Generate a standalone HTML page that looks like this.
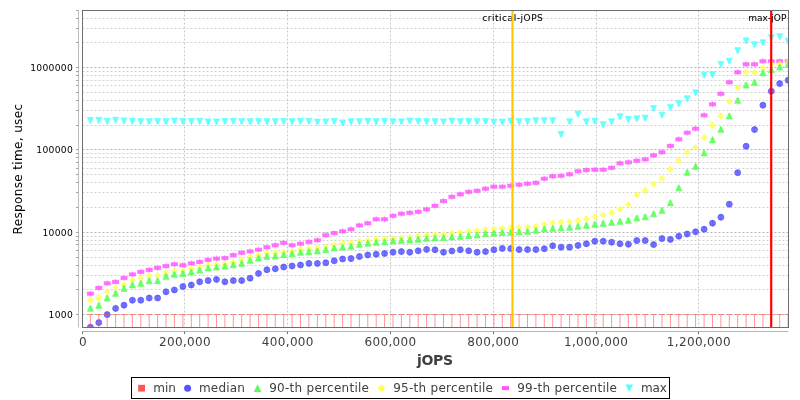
<!DOCTYPE html>
<html lang="en"><head><meta charset="utf-8"><title>Response time vs jOPS</title>
<style>html,body{margin:0;padding:0;background:#fff;overflow:hidden}svg{display:block;filter:opacity(1)}text{font-family:'DejaVu Sans','Liberation Sans',sans-serif;}</style></head><body>
<svg width="800" height="400" viewBox="0 0 800 400">
<rect x="0" y="0" width="800" height="400" fill="#ffffff"/>
<defs><clipPath id="plot"><rect x="82.5" y="10.5" width="706.0" height="317.0"/></clipPath></defs>
<g stroke="#c0c0c0" stroke-width="1" stroke-dasharray="2 2" fill="none" stroke-opacity="0.85">
<line x1="184.5" y1="10.5" x2="184.5" y2="327.5"/>
<line x1="287.5" y1="10.5" x2="287.5" y2="327.5"/>
<line x1="390.5" y1="10.5" x2="390.5" y2="327.5"/>
<line x1="493.5" y1="10.5" x2="493.5" y2="327.5"/>
<line x1="596.5" y1="10.5" x2="596.5" y2="327.5"/>
<line x1="698.5" y1="10.5" x2="698.5" y2="327.5"/>
<line x1="82.5" y1="314.5" x2="788.5" y2="314.5" stroke="#b2b2b2" stroke-opacity="1"/>
<line x1="82.5" y1="289.5" x2="788.5" y2="289.5" stroke="#cacaca"/>
<line x1="82.5" y1="275.5" x2="788.5" y2="275.5" stroke="#cacaca"/>
<line x1="82.5" y1="265.5" x2="788.5" y2="265.5" stroke="#cacaca"/>
<line x1="82.5" y1="257.5" x2="788.5" y2="257.5" stroke="#cacaca"/>
<line x1="82.5" y1="250.5" x2="788.5" y2="250.5" stroke="#cacaca"/>
<line x1="82.5" y1="244.5" x2="788.5" y2="244.5" stroke="#cacaca"/>
<line x1="82.5" y1="240.5" x2="788.5" y2="240.5" stroke="#cacaca"/>
<line x1="82.5" y1="236.5" x2="788.5" y2="236.5" stroke="#cacaca"/>
<line x1="82.5" y1="232.5" x2="788.5" y2="232.5" stroke="#b2b2b2" stroke-opacity="1"/>
<line x1="82.5" y1="207.5" x2="788.5" y2="207.5" stroke="#cacaca"/>
<line x1="82.5" y1="192.5" x2="788.5" y2="192.5" stroke="#cacaca"/>
<line x1="82.5" y1="182.5" x2="788.5" y2="182.5" stroke="#cacaca"/>
<line x1="82.5" y1="174.5" x2="788.5" y2="174.5" stroke="#cacaca"/>
<line x1="82.5" y1="168.5" x2="788.5" y2="168.5" stroke="#cacaca"/>
<line x1="82.5" y1="162.5" x2="788.5" y2="162.5" stroke="#cacaca"/>
<line x1="82.5" y1="157.5" x2="788.5" y2="157.5" stroke="#cacaca"/>
<line x1="82.5" y1="153.5" x2="788.5" y2="153.5" stroke="#cacaca"/>
<line x1="82.5" y1="149.5" x2="788.5" y2="149.5" stroke="#b2b2b2" stroke-opacity="1"/>
<line x1="82.5" y1="125.5" x2="788.5" y2="125.5" stroke="#cacaca"/>
<line x1="82.5" y1="110.5" x2="788.5" y2="110.5" stroke="#cacaca"/>
<line x1="82.5" y1="100.5" x2="788.5" y2="100.5" stroke="#cacaca"/>
<line x1="82.5" y1="92.5" x2="788.5" y2="92.5" stroke="#cacaca"/>
<line x1="82.5" y1="85.5" x2="788.5" y2="85.5" stroke="#cacaca"/>
<line x1="82.5" y1="80.5" x2="788.5" y2="80.5" stroke="#cacaca"/>
<line x1="82.5" y1="75.5" x2="788.5" y2="75.5" stroke="#cacaca"/>
<line x1="82.5" y1="71.5" x2="788.5" y2="71.5" stroke="#cacaca"/>
<line x1="82.5" y1="67.5" x2="788.5" y2="67.5" stroke="#b2b2b2" stroke-opacity="1"/>
<line x1="82.5" y1="42.5" x2="788.5" y2="42.5" stroke="#cacaca"/>
<line x1="82.5" y1="28.5" x2="788.5" y2="28.5" stroke="#cacaca"/>
<line x1="82.5" y1="18.5" x2="788.5" y2="18.5" stroke="#cacaca"/>
</g>
<g clip-path="url(#plot)" stroke-width="1" stroke-linejoin="miter">
<g fill="#55ffff" stroke="#55ffff" fill-opacity="0.8" stroke-opacity="0.7">
<path d="M87.4 117.5H93.4L90.4 123.5Z"/>
<path d="M95.8 117.3H101.8L98.8 123.3Z"/>
<path d="M104.2 118.3H110.2L107.2 124.3Z"/>
<path d="M112.6 117.3H118.6L115.6 123.3Z"/>
<path d="M121.0 117.9H127.0L124.0 123.9Z"/>
<path d="M129.4 118.3H135.4L132.4 124.3Z"/>
<path d="M137.8 118.7H143.8L140.8 124.7Z"/>
<path d="M146.2 118.7H152.2L149.2 124.7Z"/>
<path d="M154.6 118.5H160.6L157.6 124.5Z"/>
<path d="M163.0 118.7H169.0L166.0 124.7Z"/>
<path d="M171.4 118.1H177.4L174.4 124.1Z"/>
<path d="M179.9 118.5H185.9L182.9 124.5Z"/>
<path d="M188.3 118.5H194.3L191.3 124.5Z"/>
<path d="M196.7 118.3H202.7L199.7 124.3Z"/>
<path d="M205.1 118.9H211.1L208.1 124.9Z"/>
<path d="M213.5 118.9H219.5L216.5 124.9Z"/>
<path d="M221.9 118.5H227.9L224.9 124.5Z"/>
<path d="M230.3 118.3H236.3L233.3 124.3Z"/>
<path d="M238.7 118.7H244.7L241.7 124.7Z"/>
<path d="M247.1 118.7H253.1L250.1 124.7Z"/>
<path d="M255.5 118.5H261.5L258.5 124.5Z"/>
<path d="M263.9 118.7H269.9L266.9 124.7Z"/>
<path d="M272.3 118.7H278.3L275.3 124.7Z"/>
<path d="M280.7 118.5H286.7L283.7 124.5Z"/>
<path d="M289.1 118.7H295.1L292.1 124.7Z"/>
<path d="M297.5 118.3H303.5L300.5 124.3Z"/>
<path d="M305.9 118.3H311.9L308.9 124.3Z"/>
<path d="M314.4 119.1H320.4L317.4 125.1Z"/>
<path d="M322.8 118.9H328.8L325.8 124.9Z"/>
<path d="M331.2 118.5H337.2L334.2 124.5Z"/>
<path d="M339.6 119.9H345.6L342.6 125.9Z"/>
<path d="M348.0 118.7H354.0L351.0 124.7Z"/>
<path d="M356.4 118.7H362.4L359.4 124.7Z"/>
<path d="M364.8 118.3H370.8L367.8 124.3Z"/>
<path d="M373.2 118.7H379.2L376.2 124.7Z"/>
<path d="M381.6 118.4H387.6L384.6 124.4Z"/>
<path d="M390.0 118.7H396.0L393.0 124.7Z"/>
<path d="M398.4 118.9H404.4L401.4 124.9Z"/>
<path d="M406.8 118.1H412.8L409.8 124.1Z"/>
<path d="M415.2 118.5H421.2L418.2 124.5Z"/>
<path d="M423.6 118.7H429.6L426.6 124.7Z"/>
<path d="M432.0 118.7H438.0L435.0 124.7Z"/>
<path d="M440.5 118.9H446.5L443.5 124.9Z"/>
<path d="M448.9 118.1H454.9L451.9 124.1Z"/>
<path d="M457.3 118.7H463.3L460.3 124.7Z"/>
<path d="M465.7 118.5H471.7L468.7 124.5Z"/>
<path d="M474.1 118.7H480.1L477.1 124.7Z"/>
<path d="M482.5 118.5H488.5L485.5 124.5Z"/>
<path d="M490.9 119.1H496.9L493.9 125.1Z"/>
<path d="M499.3 119.1H505.3L502.3 125.1Z"/>
<path d="M507.7 118.3H513.7L510.7 124.3Z"/>
<path d="M516.1 118.7H522.1L519.1 124.7Z"/>
<path d="M524.5 118.5H530.5L527.5 124.5Z"/>
<path d="M532.9 117.8H538.9L535.9 123.8Z"/>
<path d="M541.3 117.8H547.3L544.3 123.8Z"/>
<path d="M549.7 117.8H555.7L552.7 123.8Z"/>
<path d="M558.1 131.4H564.1L561.1 137.4Z"/>
<path d="M566.6 118.8H572.6L569.6 124.8Z"/>
<path d="M575.0 111.2H581.0L578.0 117.2Z"/>
<path d="M583.4 118.8H589.4L586.4 124.8Z"/>
<path d="M591.8 118.2H597.8L594.8 124.2Z"/>
<path d="M600.2 121.8H606.2L603.2 127.8Z"/>
<path d="M608.6 118.8H614.6L611.6 124.8Z"/>
<path d="M617.0 113.8H623.0L620.0 119.8Z"/>
<path d="M625.4 116.4H631.4L628.4 122.4Z"/>
<path d="M633.8 115.8H639.8L636.8 121.8Z"/>
<path d="M642.2 115.2H648.2L645.2 121.2Z"/>
<path d="M650.6 105.6H656.6L653.6 111.6Z"/>
<path d="M659.0 112.2H665.0L662.0 118.2Z"/>
<path d="M667.4 104.6H673.4L670.4 110.6Z"/>
<path d="M675.8 100.8H681.8L678.8 106.8Z"/>
<path d="M684.2 95.8H690.2L687.2 101.8Z"/>
<path d="M692.6 89.8H698.6L695.6 95.8Z"/>
<path d="M701.1 72.2H707.1L704.1 78.2Z"/>
<path d="M709.5 71.8H715.5L712.5 77.8Z"/>
<path d="M717.9 61.4H723.9L720.9 67.4Z"/>
<path d="M726.3 58.2H732.3L729.3 64.2Z"/>
<path d="M734.7 47.7H740.7L737.7 53.7Z"/>
<path d="M743.1 37.9H749.1L746.1 43.9Z"/>
<path d="M751.5 41.7H757.5L754.5 47.7Z"/>
<path d="M759.9 39.8H765.9L762.9 45.8Z"/>
<path d="M768.3 34.8H774.3L771.3 40.8Z"/>
<path d="M776.7 33.7H782.7L779.7 39.7Z"/>
<path d="M785.1 38.2H791.1L788.1 44.2Z"/>
</g>
<g stroke="#55ffff" stroke-opacity="0.6" fill="none">
<path d="M90.4 117.5V123.5"/>
<path d="M98.8 117.3V123.3"/>
<path d="M107.2 118.3V124.3"/>
<path d="M115.6 117.3V123.3"/>
<path d="M124.0 117.9V123.9"/>
<path d="M132.4 118.3V124.3"/>
<path d="M140.8 118.7V124.7"/>
<path d="M149.2 118.7V124.7"/>
<path d="M157.6 118.5V124.5"/>
<path d="M166.0 118.7V124.7"/>
<path d="M174.4 118.1V124.1"/>
<path d="M182.9 118.5V124.5"/>
<path d="M191.3 118.5V124.5"/>
<path d="M199.7 118.3V124.3"/>
<path d="M208.1 118.9V124.9"/>
<path d="M216.5 118.9V124.9"/>
<path d="M224.9 118.5V124.5"/>
<path d="M233.3 118.3V124.3"/>
<path d="M241.7 118.7V124.7"/>
<path d="M250.1 118.7V124.7"/>
<path d="M258.5 118.5V124.5"/>
<path d="M266.9 118.7V124.7"/>
<path d="M275.3 118.7V124.7"/>
<path d="M283.7 118.5V124.5"/>
<path d="M292.1 118.7V124.7"/>
<path d="M300.5 118.3V124.3"/>
<path d="M308.9 118.3V124.3"/>
<path d="M317.4 119.1V125.1"/>
<path d="M325.8 118.9V124.9"/>
<path d="M334.2 118.5V124.5"/>
<path d="M342.6 119.9V125.9"/>
<path d="M351.0 118.7V124.7"/>
<path d="M359.4 118.7V124.7"/>
<path d="M367.8 118.3V124.3"/>
<path d="M376.2 118.7V124.7"/>
<path d="M384.6 118.4V124.4"/>
<path d="M393.0 118.7V124.7"/>
<path d="M401.4 118.9V124.9"/>
<path d="M409.8 118.1V124.1"/>
<path d="M418.2 118.5V124.5"/>
<path d="M426.6 118.7V124.7"/>
<path d="M435.0 118.7V124.7"/>
<path d="M443.5 118.9V124.9"/>
<path d="M451.9 118.1V124.1"/>
<path d="M460.3 118.7V124.7"/>
<path d="M468.7 118.5V124.5"/>
<path d="M477.1 118.7V124.7"/>
<path d="M485.5 118.5V124.5"/>
<path d="M493.9 119.1V125.1"/>
<path d="M502.3 119.1V125.1"/>
<path d="M510.7 118.3V124.3"/>
<path d="M519.1 118.7V124.7"/>
<path d="M527.5 118.5V124.5"/>
<path d="M535.9 117.8V123.8"/>
<path d="M544.3 117.8V123.8"/>
<path d="M552.7 117.8V123.8"/>
<path d="M561.1 131.4V137.4"/>
<path d="M569.6 118.8V124.8"/>
<path d="M578.0 111.2V117.2"/>
<path d="M586.4 118.8V124.8"/>
<path d="M594.8 118.2V124.2"/>
<path d="M603.2 121.8V127.8"/>
<path d="M611.6 118.8V124.8"/>
<path d="M620.0 113.8V119.8"/>
<path d="M628.4 116.4V122.4"/>
<path d="M636.8 115.8V121.8"/>
<path d="M645.2 115.2V121.2"/>
<path d="M653.6 105.6V111.6"/>
<path d="M662.0 112.2V118.2"/>
<path d="M670.4 104.6V110.6"/>
<path d="M678.8 100.8V106.8"/>
<path d="M687.2 95.8V101.8"/>
<path d="M695.6 89.8V95.8"/>
<path d="M704.1 72.2V78.2"/>
<path d="M712.5 71.8V77.8"/>
<path d="M720.9 61.4V67.4"/>
<path d="M729.3 58.2V64.2"/>
<path d="M737.7 47.7V53.7"/>
<path d="M746.1 37.9V43.9"/>
<path d="M754.5 41.7V47.7"/>
<path d="M762.9 39.8V45.8"/>
<path d="M771.3 34.8V40.8"/>
<path d="M779.7 33.7V39.7"/>
<path d="M788.1 38.2V44.2"/>
</g>
<g stroke="#55ffff" stroke-opacity="0.3" fill="none">
<path d="M88.4 118.9H92.4M88.4 122.1H92.4"/>
<path d="M96.8 118.7H100.8M96.8 121.9H100.8"/>
<path d="M105.2 119.7H109.2M105.2 122.9H109.2"/>
<path d="M113.6 118.7H117.6M113.6 121.9H117.6"/>
<path d="M122.0 119.3H126.0M122.0 122.5H126.0"/>
<path d="M130.4 119.7H134.4M130.4 122.9H134.4"/>
<path d="M138.8 120.1H142.8M138.8 123.3H142.8"/>
<path d="M147.2 120.1H151.2M147.2 123.3H151.2"/>
<path d="M155.6 119.9H159.6M155.6 123.1H159.6"/>
<path d="M164.0 120.1H168.0M164.0 123.3H168.0"/>
<path d="M172.4 119.5H176.4M172.4 122.7H176.4"/>
<path d="M180.9 119.9H184.9M180.9 123.1H184.9"/>
<path d="M189.3 119.9H193.3M189.3 123.1H193.3"/>
<path d="M197.7 119.7H201.7M197.7 122.9H201.7"/>
<path d="M206.1 120.3H210.1M206.1 123.5H210.1"/>
<path d="M214.5 120.3H218.5M214.5 123.5H218.5"/>
<path d="M222.9 119.9H226.9M222.9 123.1H226.9"/>
<path d="M231.3 119.7H235.3M231.3 122.9H235.3"/>
<path d="M239.7 120.1H243.7M239.7 123.3H243.7"/>
<path d="M248.1 120.1H252.1M248.1 123.3H252.1"/>
<path d="M256.5 119.9H260.5M256.5 123.1H260.5"/>
<path d="M264.9 120.1H268.9M264.9 123.3H268.9"/>
<path d="M273.3 120.1H277.3M273.3 123.3H277.3"/>
<path d="M281.7 119.9H285.7M281.7 123.1H285.7"/>
<path d="M290.1 120.1H294.1M290.1 123.3H294.1"/>
<path d="M298.5 119.7H302.5M298.5 122.9H302.5"/>
<path d="M306.9 119.7H310.9M306.9 122.9H310.9"/>
<path d="M315.4 120.5H319.4M315.4 123.7H319.4"/>
<path d="M323.8 120.3H327.8M323.8 123.5H327.8"/>
<path d="M332.2 119.9H336.2M332.2 123.1H336.2"/>
<path d="M340.6 121.3H344.6M340.6 124.5H344.6"/>
<path d="M349.0 120.1H353.0M349.0 123.3H353.0"/>
<path d="M357.4 120.1H361.4M357.4 123.3H361.4"/>
<path d="M365.8 119.7H369.8M365.8 122.9H369.8"/>
<path d="M374.2 120.1H378.2M374.2 123.3H378.2"/>
<path d="M382.6 119.8H386.6M382.6 123.0H386.6"/>
<path d="M391.0 120.1H395.0M391.0 123.3H395.0"/>
<path d="M399.4 120.3H403.4M399.4 123.5H403.4"/>
<path d="M407.8 119.5H411.8M407.8 122.7H411.8"/>
<path d="M416.2 119.9H420.2M416.2 123.1H420.2"/>
<path d="M424.6 120.1H428.6M424.6 123.3H428.6"/>
<path d="M433.0 120.1H437.0M433.0 123.3H437.0"/>
<path d="M441.5 120.3H445.5M441.5 123.5H445.5"/>
<path d="M449.9 119.5H453.9M449.9 122.7H453.9"/>
<path d="M458.3 120.1H462.3M458.3 123.3H462.3"/>
<path d="M466.7 119.9H470.7M466.7 123.1H470.7"/>
<path d="M475.1 120.1H479.1M475.1 123.3H479.1"/>
<path d="M483.5 119.9H487.5M483.5 123.1H487.5"/>
<path d="M491.9 120.5H495.9M491.9 123.7H495.9"/>
<path d="M500.3 120.5H504.3M500.3 123.7H504.3"/>
<path d="M508.7 119.7H512.7M508.7 122.9H512.7"/>
<path d="M517.1 120.1H521.1M517.1 123.3H521.1"/>
<path d="M525.5 119.9H529.5M525.5 123.1H529.5"/>
<path d="M533.9 119.2H537.9M533.9 122.4H537.9"/>
<path d="M542.3 119.2H546.3M542.3 122.4H546.3"/>
<path d="M550.7 119.2H554.7M550.7 122.4H554.7"/>
<path d="M559.1 132.8H563.1M559.1 136.0H563.1"/>
<path d="M567.6 120.2H571.6M567.6 123.4H571.6"/>
<path d="M576.0 112.6H580.0M576.0 115.8H580.0"/>
<path d="M584.4 120.2H588.4M584.4 123.4H588.4"/>
<path d="M592.8 119.6H596.8M592.8 122.8H596.8"/>
<path d="M601.2 123.2H605.2M601.2 126.4H605.2"/>
<path d="M609.6 120.2H613.6M609.6 123.4H613.6"/>
<path d="M618.0 115.2H622.0M618.0 118.4H622.0"/>
<path d="M626.4 117.8H630.4M626.4 121.0H630.4"/>
<path d="M634.8 117.2H638.8M634.8 120.4H638.8"/>
<path d="M643.2 116.6H647.2M643.2 119.8H647.2"/>
<path d="M651.6 107.0H655.6M651.6 110.2H655.6"/>
<path d="M660.0 113.6H664.0M660.0 116.8H664.0"/>
<path d="M668.4 106.0H672.4M668.4 109.2H672.4"/>
<path d="M676.8 102.2H680.8M676.8 105.4H680.8"/>
<path d="M685.2 97.2H689.2M685.2 100.4H689.2"/>
<path d="M693.6 91.2H697.6M693.6 94.4H697.6"/>
<path d="M702.1 73.6H706.1M702.1 76.8H706.1"/>
<path d="M710.5 73.2H714.5M710.5 76.4H714.5"/>
<path d="M718.9 62.8H722.9M718.9 66.0H722.9"/>
<path d="M727.3 59.6H731.3M727.3 62.8H731.3"/>
<path d="M735.7 49.1H739.7M735.7 52.3H739.7"/>
<path d="M744.1 39.3H748.1M744.1 42.5H748.1"/>
<path d="M752.5 43.1H756.5M752.5 46.3H756.5"/>
<path d="M760.9 41.2H764.9M760.9 44.4H764.9"/>
<path d="M769.3 36.2H773.3M769.3 39.4H773.3"/>
<path d="M777.7 35.1H781.7M777.7 38.3H781.7"/>
<path d="M786.1 39.6H790.1M786.1 42.8H790.1"/>
</g>
<g fill="#ff55ff" stroke="#ff55ff" fill-opacity="0.8" stroke-opacity="0.7">
<rect x="87.4" y="292.1" width="6" height="3"/>
<rect x="95.8" y="286.4" width="6" height="3"/>
<rect x="104.2" y="281.8" width="6" height="3"/>
<rect x="112.6" y="280.4" width="6" height="3"/>
<rect x="121.0" y="276.4" width="6" height="3"/>
<rect x="129.4" y="272.9" width="6" height="3"/>
<rect x="137.8" y="270.4" width="6" height="3"/>
<rect x="146.2" y="268.4" width="6" height="3"/>
<rect x="154.6" y="266.4" width="6" height="3"/>
<rect x="163.0" y="264.6" width="6" height="3"/>
<rect x="171.4" y="262.8" width="6" height="3"/>
<rect x="179.9" y="263.8" width="6" height="3"/>
<rect x="188.3" y="261.9" width="6" height="3"/>
<rect x="196.7" y="260.4" width="6" height="3"/>
<rect x="205.1" y="258.4" width="6" height="3"/>
<rect x="213.5" y="257.1" width="6" height="3"/>
<rect x="221.9" y="256.6" width="6" height="3"/>
<rect x="230.3" y="253.6" width="6" height="3"/>
<rect x="238.7" y="251.3" width="6" height="3"/>
<rect x="247.1" y="249.9" width="6" height="3"/>
<rect x="255.5" y="248.2" width="6" height="3"/>
<rect x="263.9" y="245.8" width="6" height="3"/>
<rect x="272.3" y="243.8" width="6" height="3"/>
<rect x="280.7" y="241.3" width="6" height="3"/>
<rect x="289.1" y="243.8" width="6" height="3"/>
<rect x="297.5" y="242.2" width="6" height="3"/>
<rect x="305.9" y="240.3" width="6" height="3"/>
<rect x="314.4" y="238.8" width="6" height="3"/>
<rect x="322.8" y="233.8" width="6" height="3"/>
<rect x="331.2" y="231.6" width="6" height="3"/>
<rect x="339.6" y="229.8" width="6" height="3"/>
<rect x="348.0" y="227.8" width="6" height="3"/>
<rect x="356.4" y="223.9" width="6" height="3"/>
<rect x="364.8" y="221.8" width="6" height="3"/>
<rect x="373.2" y="217.8" width="6" height="3"/>
<rect x="381.6" y="217.8" width="6" height="3"/>
<rect x="390.0" y="214.3" width="6" height="3"/>
<rect x="398.4" y="212.2" width="6" height="3"/>
<rect x="406.8" y="211.3" width="6" height="3"/>
<rect x="415.2" y="210.3" width="6" height="3"/>
<rect x="423.6" y="207.9" width="6" height="3"/>
<rect x="432.0" y="204.3" width="6" height="3"/>
<rect x="440.5" y="199.6" width="6" height="3"/>
<rect x="448.9" y="195.3" width="6" height="3"/>
<rect x="457.3" y="192.8" width="6" height="3"/>
<rect x="465.7" y="190.3" width="6" height="3"/>
<rect x="474.1" y="189.3" width="6" height="3"/>
<rect x="482.5" y="187.2" width="6" height="3"/>
<rect x="490.9" y="185.2" width="6" height="3"/>
<rect x="499.3" y="185.2" width="6" height="3"/>
<rect x="507.7" y="184.2" width="6" height="3"/>
<rect x="516.1" y="183.2" width="6" height="3"/>
<rect x="524.5" y="182.2" width="6" height="3"/>
<rect x="532.9" y="181.3" width="6" height="3"/>
<rect x="541.3" y="177.2" width="6" height="3"/>
<rect x="549.7" y="174.8" width="6" height="3"/>
<rect x="558.1" y="174.2" width="6" height="3"/>
<rect x="566.6" y="172.8" width="6" height="3"/>
<rect x="575.0" y="169.8" width="6" height="3"/>
<rect x="583.4" y="168.6" width="6" height="3"/>
<rect x="591.8" y="168.2" width="6" height="3"/>
<rect x="600.2" y="168.2" width="6" height="3"/>
<rect x="608.6" y="166.3" width="6" height="3"/>
<rect x="617.0" y="161.8" width="6" height="3"/>
<rect x="625.4" y="160.8" width="6" height="3"/>
<rect x="633.8" y="159.2" width="6" height="3"/>
<rect x="642.2" y="157.9" width="6" height="3"/>
<rect x="650.6" y="153.9" width="6" height="3"/>
<rect x="659.0" y="150.8" width="6" height="3"/>
<rect x="667.4" y="144.4" width="6" height="3"/>
<rect x="675.8" y="137.8" width="6" height="3"/>
<rect x="684.2" y="131.2" width="6" height="3"/>
<rect x="692.6" y="127.2" width="6" height="3"/>
<rect x="701.1" y="113.8" width="6" height="3"/>
<rect x="709.5" y="102.8" width="6" height="3"/>
<rect x="717.9" y="92.3" width="6" height="3"/>
<rect x="726.3" y="80.8" width="6" height="3"/>
<rect x="734.7" y="70.8" width="6" height="3"/>
<rect x="743.1" y="62.8" width="6" height="3"/>
<rect x="751.5" y="62.8" width="6" height="3"/>
<rect x="759.9" y="59.8" width="6" height="3"/>
<rect x="768.3" y="59.8" width="6" height="3"/>
<rect x="776.7" y="59.8" width="6" height="3"/>
<rect x="785.1" y="59.8" width="6" height="3"/>
</g>
<g stroke="#ff55ff" stroke-opacity="0.6" fill="none">
<path d="M90.4 290.6V296.6"/>
<path d="M98.8 284.9V290.9"/>
<path d="M107.2 280.2V286.2"/>
<path d="M115.6 278.9V284.9"/>
<path d="M124.0 274.9V280.9"/>
<path d="M132.4 271.4V277.4"/>
<path d="M140.8 268.9V274.9"/>
<path d="M149.2 266.9V272.9"/>
<path d="M157.6 264.9V270.9"/>
<path d="M166.0 263.1V269.1"/>
<path d="M174.4 261.2V267.2"/>
<path d="M182.9 262.2V268.2"/>
<path d="M191.3 260.4V266.4"/>
<path d="M199.7 258.9V264.9"/>
<path d="M208.1 256.9V262.9"/>
<path d="M216.5 255.6V261.6"/>
<path d="M224.9 255.1V261.1"/>
<path d="M233.3 252.1V258.1"/>
<path d="M241.7 249.8V255.8"/>
<path d="M250.1 248.4V254.4"/>
<path d="M258.5 246.7V252.7"/>
<path d="M266.9 244.2V250.2"/>
<path d="M275.3 242.2V248.2"/>
<path d="M283.7 239.8V245.8"/>
<path d="M292.1 242.2V248.2"/>
<path d="M300.5 240.7V246.7"/>
<path d="M308.9 238.8V244.8"/>
<path d="M317.4 237.2V243.2"/>
<path d="M325.8 232.2V238.2"/>
<path d="M334.2 230.1V236.1"/>
<path d="M342.6 228.2V234.2"/>
<path d="M351.0 226.2V232.2"/>
<path d="M359.4 222.4V228.4"/>
<path d="M367.8 220.2V226.2"/>
<path d="M376.2 216.2V222.2"/>
<path d="M384.6 216.2V222.2"/>
<path d="M393.0 212.8V218.8"/>
<path d="M401.4 210.7V216.7"/>
<path d="M409.8 209.8V215.8"/>
<path d="M418.2 208.8V214.8"/>
<path d="M426.6 206.4V212.4"/>
<path d="M435.0 202.8V208.8"/>
<path d="M443.5 198.1V204.1"/>
<path d="M451.9 193.8V199.8"/>
<path d="M460.3 191.2V197.2"/>
<path d="M468.7 188.8V194.8"/>
<path d="M477.1 187.8V193.8"/>
<path d="M485.5 185.7V191.7"/>
<path d="M493.9 183.7V189.7"/>
<path d="M502.3 183.7V189.7"/>
<path d="M510.7 182.7V188.7"/>
<path d="M519.1 181.7V187.7"/>
<path d="M527.5 180.7V186.7"/>
<path d="M535.9 179.8V185.8"/>
<path d="M544.3 175.8V181.8"/>
<path d="M552.7 173.2V179.2"/>
<path d="M561.1 172.7V178.7"/>
<path d="M569.6 171.2V177.2"/>
<path d="M578.0 168.2V174.2"/>
<path d="M586.4 167.1V173.1"/>
<path d="M594.8 166.7V172.7"/>
<path d="M603.2 166.7V172.7"/>
<path d="M611.6 164.8V170.8"/>
<path d="M620.0 160.2V166.2"/>
<path d="M628.4 159.2V165.2"/>
<path d="M636.8 157.7V163.7"/>
<path d="M645.2 156.4V162.4"/>
<path d="M653.6 152.4V158.4"/>
<path d="M662.0 149.2V155.2"/>
<path d="M670.4 142.9V148.9"/>
<path d="M678.8 136.2V142.2"/>
<path d="M687.2 129.8V135.8"/>
<path d="M695.6 125.7V131.7"/>
<path d="M704.1 112.2V118.2"/>
<path d="M712.5 101.2V107.2"/>
<path d="M720.9 90.8V96.8"/>
<path d="M729.3 79.2V85.2"/>
<path d="M737.7 69.2V75.2"/>
<path d="M746.1 61.2V67.2"/>
<path d="M754.5 61.2V67.2"/>
<path d="M762.9 58.2V64.2"/>
<path d="M771.3 58.2V64.2"/>
<path d="M779.7 58.2V64.2"/>
<path d="M788.1 58.2V64.2"/>
</g>
<g stroke="#ff55ff" stroke-opacity="0" fill="none">
</g>
<g fill="#ffff55" stroke="#ffff55" fill-opacity="0.8" stroke-opacity="0.7">
<path d="M90.4 297.3L93.4 300.3L90.4 303.3L87.4 300.3Z"/>
<path d="M98.8 294.7L101.8 297.7L98.8 300.7L95.8 297.7Z"/>
<path d="M107.2 288.7L110.2 291.7L107.2 294.7L104.2 291.7Z"/>
<path d="M115.6 284.7L118.6 287.7L115.6 290.7L112.6 287.7Z"/>
<path d="M124.0 281.7L127.0 284.7L124.0 287.7L121.0 284.7Z"/>
<path d="M132.4 277.3L135.4 280.3L132.4 283.3L129.4 280.3Z"/>
<path d="M140.8 275.3L143.8 278.3L140.8 281.3L137.8 278.3Z"/>
<path d="M149.2 272.9L152.2 275.9L149.2 278.9L146.2 275.9Z"/>
<path d="M157.6 272.3L160.6 275.3L157.6 278.3L154.6 275.3Z"/>
<path d="M166.0 269.7L169.0 272.7L166.0 275.7L163.0 272.7Z"/>
<path d="M174.4 267.7L177.4 270.7L174.4 273.7L171.4 270.7Z"/>
<path d="M182.9 267.7L185.9 270.7L182.9 273.7L179.9 270.7Z"/>
<path d="M191.3 265.7L194.3 268.7L191.3 271.7L188.3 268.7Z"/>
<path d="M199.7 264.1L202.7 267.1L199.7 270.1L196.7 267.1Z"/>
<path d="M208.1 262.1L211.1 265.1L208.1 268.1L205.1 265.1Z"/>
<path d="M216.5 261.3L219.5 264.3L216.5 267.3L213.5 264.3Z"/>
<path d="M224.9 260.9L227.9 263.9L224.9 266.9L221.9 263.9Z"/>
<path d="M233.3 259.5L236.3 262.5L233.3 265.5L230.3 262.5Z"/>
<path d="M241.7 256.7L244.7 259.7L241.7 262.7L238.7 259.7Z"/>
<path d="M250.1 254.1L253.1 257.1L250.1 260.1L247.1 257.1Z"/>
<path d="M258.5 252.1L261.5 255.1L258.5 258.1L255.5 255.1Z"/>
<path d="M266.9 250.2L269.9 253.2L266.9 256.2L263.9 253.2Z"/>
<path d="M275.3 249.7L278.3 252.7L275.3 255.7L272.3 252.7Z"/>
<path d="M283.7 249.1L286.7 252.1L283.7 255.1L280.7 252.1Z"/>
<path d="M292.1 248.7L295.1 251.7L292.1 254.7L289.1 251.7Z"/>
<path d="M300.5 246.7L303.5 249.7L300.5 252.7L297.5 249.7Z"/>
<path d="M308.9 245.7L311.9 248.7L308.9 251.7L305.9 248.7Z"/>
<path d="M317.4 244.8L320.4 247.8L317.4 250.8L314.4 247.8Z"/>
<path d="M325.8 244.1L328.8 247.1L325.8 250.1L322.8 247.1Z"/>
<path d="M334.2 242.1L337.2 245.1L334.2 248.1L331.2 245.1Z"/>
<path d="M342.6 240.2L345.6 243.2L342.6 246.2L339.6 243.2Z"/>
<path d="M351.0 239.7L354.0 242.7L351.0 245.7L348.0 242.7Z"/>
<path d="M359.4 238.2L362.4 241.2L359.4 244.2L356.4 241.2Z"/>
<path d="M367.8 237.7L370.8 240.7L367.8 243.7L364.8 240.7Z"/>
<path d="M376.2 236.2L379.2 239.2L376.2 242.2L373.2 239.2Z"/>
<path d="M384.6 235.5L387.6 238.5L384.6 241.5L381.6 238.5Z"/>
<path d="M393.0 235.2L396.0 238.2L393.0 241.2L390.0 238.2Z"/>
<path d="M401.4 234.7L404.4 237.7L401.4 240.7L398.4 237.7Z"/>
<path d="M409.8 234.2L412.8 237.2L409.8 240.2L406.8 237.2Z"/>
<path d="M418.2 233.1L421.2 236.1L418.2 239.1L415.2 236.1Z"/>
<path d="M426.6 232.2L429.6 235.2L426.6 238.2L423.6 235.2Z"/>
<path d="M435.0 231.7L438.0 234.7L435.0 237.7L432.0 234.7Z"/>
<path d="M443.5 231.2L446.5 234.2L443.5 237.2L440.5 234.2Z"/>
<path d="M451.9 230.1L454.9 233.1L451.9 236.1L448.9 233.1Z"/>
<path d="M460.3 229.2L463.3 232.2L460.3 235.2L457.3 232.2Z"/>
<path d="M468.7 228.7L471.7 231.7L468.7 234.7L465.7 231.7Z"/>
<path d="M477.1 227.7L480.1 230.7L477.1 233.7L474.1 230.7Z"/>
<path d="M485.5 226.7L488.5 229.7L485.5 232.7L482.5 229.7Z"/>
<path d="M493.9 226.1L496.9 229.1L493.9 232.1L490.9 229.1Z"/>
<path d="M502.3 225.2L505.3 228.2L502.3 231.2L499.3 228.2Z"/>
<path d="M510.7 224.8L513.7 227.8L510.7 230.8L507.7 227.8Z"/>
<path d="M519.1 224.7L522.1 227.7L519.1 230.7L516.1 227.7Z"/>
<path d="M527.5 224.2L530.5 227.2L527.5 230.2L524.5 227.2Z"/>
<path d="M535.9 223.2L538.9 226.2L535.9 229.2L532.9 226.2Z"/>
<path d="M544.3 221.2L547.3 224.2L544.3 227.2L541.3 224.2Z"/>
<path d="M552.7 219.7L555.7 222.7L552.7 225.7L549.7 222.7Z"/>
<path d="M561.1 219.2L564.1 222.2L561.1 225.2L558.1 222.2Z"/>
<path d="M569.6 218.7L572.6 221.7L569.6 224.7L566.6 221.7Z"/>
<path d="M578.0 217.7L581.0 220.7L578.0 223.7L575.0 220.7Z"/>
<path d="M586.4 215.7L589.4 218.7L586.4 221.7L583.4 218.7Z"/>
<path d="M594.8 213.7L597.8 216.7L594.8 219.7L591.8 216.7Z"/>
<path d="M603.2 212.2L606.2 215.2L603.2 218.2L600.2 215.2Z"/>
<path d="M611.6 209.7L614.6 212.7L611.6 215.7L608.6 212.7Z"/>
<path d="M620.0 206.1L623.0 209.1L620.0 212.1L617.0 209.1Z"/>
<path d="M628.4 201.7L631.4 204.7L628.4 207.7L625.4 204.7Z"/>
<path d="M636.8 192.0L639.8 195.0L636.8 198.0L633.8 195.0Z"/>
<path d="M645.2 187.4L648.2 190.4L645.2 193.4L642.2 190.4Z"/>
<path d="M653.6 181.0L656.6 184.0L653.6 187.0L650.6 184.0Z"/>
<path d="M662.0 175.5L665.0 178.5L662.0 181.5L659.0 178.5Z"/>
<path d="M670.4 166.2L673.4 169.2L670.4 172.2L667.4 169.2Z"/>
<path d="M678.8 157.5L681.8 160.5L678.8 163.5L675.8 160.5Z"/>
<path d="M687.2 149.0L690.2 152.0L687.2 155.0L684.2 152.0Z"/>
<path d="M695.6 144.6L698.6 147.6L695.6 150.6L692.6 147.6Z"/>
<path d="M704.1 134.6L707.1 137.6L704.1 140.6L701.1 137.6Z"/>
<path d="M712.5 122.4L715.5 125.4L712.5 128.4L709.5 125.4Z"/>
<path d="M720.9 113.0L723.9 116.0L720.9 119.0L717.9 116.0Z"/>
<path d="M729.3 98.4L732.3 101.4L729.3 104.4L726.3 101.4Z"/>
<path d="M737.7 84.8L740.7 87.8L737.7 90.8L734.7 87.8Z"/>
<path d="M746.1 69.6L749.1 72.6L746.1 75.6L743.1 72.6Z"/>
<path d="M754.5 69.4L757.5 72.4L754.5 75.4L751.5 72.4Z"/>
<path d="M762.9 65.4L765.9 68.4L762.9 71.4L759.9 68.4Z"/>
<path d="M771.3 61.0L774.3 64.0L771.3 67.0L768.3 64.0Z"/>
<path d="M779.7 61.2L782.7 64.2L779.7 67.2L776.7 64.2Z"/>
<path d="M788.1 59.4L791.1 62.4L788.1 65.4L785.1 62.4Z"/>
</g>
<g stroke="#ffff55" stroke-opacity="0.6" fill="none">
<path d="M90.4 297.3V303.3"/>
<path d="M98.8 294.7V300.7"/>
<path d="M107.2 288.7V294.7"/>
<path d="M115.6 284.7V290.7"/>
<path d="M124.0 281.7V287.7"/>
<path d="M132.4 277.3V283.3"/>
<path d="M140.8 275.3V281.3"/>
<path d="M149.2 272.9V278.9"/>
<path d="M157.6 272.3V278.3"/>
<path d="M166.0 269.7V275.7"/>
<path d="M174.4 267.7V273.7"/>
<path d="M182.9 267.7V273.7"/>
<path d="M191.3 265.7V271.7"/>
<path d="M199.7 264.1V270.1"/>
<path d="M208.1 262.1V268.1"/>
<path d="M216.5 261.3V267.3"/>
<path d="M224.9 260.9V266.9"/>
<path d="M233.3 259.5V265.5"/>
<path d="M241.7 256.7V262.7"/>
<path d="M250.1 254.1V260.1"/>
<path d="M258.5 252.1V258.1"/>
<path d="M266.9 250.2V256.2"/>
<path d="M275.3 249.7V255.7"/>
<path d="M283.7 249.1V255.1"/>
<path d="M292.1 248.7V254.7"/>
<path d="M300.5 246.7V252.7"/>
<path d="M308.9 245.7V251.7"/>
<path d="M317.4 244.8V250.8"/>
<path d="M325.8 244.1V250.1"/>
<path d="M334.2 242.1V248.1"/>
<path d="M342.6 240.2V246.2"/>
<path d="M351.0 239.7V245.7"/>
<path d="M359.4 238.2V244.2"/>
<path d="M367.8 237.7V243.7"/>
<path d="M376.2 236.2V242.2"/>
<path d="M384.6 235.5V241.5"/>
<path d="M393.0 235.2V241.2"/>
<path d="M401.4 234.7V240.7"/>
<path d="M409.8 234.2V240.2"/>
<path d="M418.2 233.1V239.1"/>
<path d="M426.6 232.2V238.2"/>
<path d="M435.0 231.7V237.7"/>
<path d="M443.5 231.2V237.2"/>
<path d="M451.9 230.1V236.1"/>
<path d="M460.3 229.2V235.2"/>
<path d="M468.7 228.7V234.7"/>
<path d="M477.1 227.7V233.7"/>
<path d="M485.5 226.7V232.7"/>
<path d="M493.9 226.1V232.1"/>
<path d="M502.3 225.2V231.2"/>
<path d="M510.7 224.8V230.8"/>
<path d="M519.1 224.7V230.7"/>
<path d="M527.5 224.2V230.2"/>
<path d="M535.9 223.2V229.2"/>
<path d="M544.3 221.2V227.2"/>
<path d="M552.7 219.7V225.7"/>
<path d="M561.1 219.2V225.2"/>
<path d="M569.6 218.7V224.7"/>
<path d="M578.0 217.7V223.7"/>
<path d="M586.4 215.7V221.7"/>
<path d="M594.8 213.7V219.7"/>
<path d="M603.2 212.2V218.2"/>
<path d="M611.6 209.7V215.7"/>
<path d="M620.0 206.1V212.1"/>
<path d="M628.4 201.7V207.7"/>
<path d="M636.8 192.0V198.0"/>
<path d="M645.2 187.4V193.4"/>
<path d="M653.6 181.0V187.0"/>
<path d="M662.0 175.5V181.5"/>
<path d="M670.4 166.2V172.2"/>
<path d="M678.8 157.5V163.5"/>
<path d="M687.2 149.0V155.0"/>
<path d="M695.6 144.6V150.6"/>
<path d="M704.1 134.6V140.6"/>
<path d="M712.5 122.4V128.4"/>
<path d="M720.9 113.0V119.0"/>
<path d="M729.3 98.4V104.4"/>
<path d="M737.7 84.8V90.8"/>
<path d="M746.1 69.6V75.6"/>
<path d="M754.5 69.4V75.4"/>
<path d="M762.9 65.4V71.4"/>
<path d="M771.3 61.0V67.0"/>
<path d="M779.7 61.2V67.2"/>
<path d="M788.1 59.4V65.4"/>
</g>
<g stroke="#ffff55" stroke-opacity="0.3" fill="none">
<path d="M88.4 298.7H92.4M88.4 301.9H92.4"/>
<path d="M96.8 296.1H100.8M96.8 299.3H100.8"/>
<path d="M105.2 290.1H109.2M105.2 293.3H109.2"/>
<path d="M113.6 286.1H117.6M113.6 289.3H117.6"/>
<path d="M122.0 283.1H126.0M122.0 286.3H126.0"/>
<path d="M130.4 278.7H134.4M130.4 281.9H134.4"/>
<path d="M138.8 276.7H142.8M138.8 279.9H142.8"/>
<path d="M147.2 274.3H151.2M147.2 277.5H151.2"/>
<path d="M155.6 273.7H159.6M155.6 276.9H159.6"/>
<path d="M164.0 271.1H168.0M164.0 274.3H168.0"/>
<path d="M172.4 269.1H176.4M172.4 272.3H176.4"/>
<path d="M180.9 269.1H184.9M180.9 272.3H184.9"/>
<path d="M189.3 267.1H193.3M189.3 270.3H193.3"/>
<path d="M197.7 265.4H201.7M197.7 268.7H201.7"/>
<path d="M206.1 263.4H210.1M206.1 266.7H210.1"/>
<path d="M214.5 262.7H218.5M214.5 265.9H218.5"/>
<path d="M222.9 262.2H226.9M222.9 265.5H226.9"/>
<path d="M231.3 260.9H235.3M231.3 264.1H235.3"/>
<path d="M239.7 258.1H243.7M239.7 261.3H243.7"/>
<path d="M248.1 255.5H252.1M248.1 258.7H252.1"/>
<path d="M256.5 253.5H260.5M256.5 256.7H260.5"/>
<path d="M264.9 251.7H268.9M264.9 254.8H268.9"/>
<path d="M273.3 251.1H277.3M273.3 254.2H277.3"/>
<path d="M281.7 250.5H285.7M281.7 253.7H285.7"/>
<path d="M290.1 250.1H294.1M290.1 253.2H294.1"/>
<path d="M298.5 248.1H302.5M298.5 251.2H302.5"/>
<path d="M306.9 247.1H310.9M306.9 250.2H310.9"/>
<path d="M315.4 246.2H319.4M315.4 249.4H319.4"/>
<path d="M323.8 245.5H327.8M323.8 248.7H327.8"/>
<path d="M332.2 243.5H336.2M332.2 246.7H336.2"/>
<path d="M340.6 241.7H344.6M340.6 244.8H344.6"/>
<path d="M349.0 241.1H353.0M349.0 244.2H353.0"/>
<path d="M357.4 239.7H361.4M357.4 242.8H361.4"/>
<path d="M365.8 239.1H369.8M365.8 242.2H369.8"/>
<path d="M374.2 237.7H378.2M374.2 240.8H378.2"/>
<path d="M382.6 236.9H386.6M382.6 240.1H386.6"/>
<path d="M391.0 236.7H395.0M391.0 239.8H395.0"/>
<path d="M399.4 236.1H403.4M399.4 239.2H403.4"/>
<path d="M407.8 235.7H411.8M407.8 238.8H411.8"/>
<path d="M416.2 234.5H420.2M416.2 237.7H420.2"/>
<path d="M424.6 233.7H428.6M424.6 236.8H428.6"/>
<path d="M433.0 233.1H437.0M433.0 236.2H437.0"/>
<path d="M441.5 232.7H445.5M441.5 235.8H445.5"/>
<path d="M449.9 231.5H453.9M449.9 234.7H453.9"/>
<path d="M458.3 230.7H462.3M458.3 233.8H462.3"/>
<path d="M466.7 230.1H470.7M466.7 233.2H470.7"/>
<path d="M475.1 229.1H479.1M475.1 232.2H479.1"/>
<path d="M483.5 228.1H487.5M483.5 231.2H487.5"/>
<path d="M491.9 227.5H495.9M491.9 230.7H495.9"/>
<path d="M500.3 226.7H504.3M500.3 229.8H504.3"/>
<path d="M508.7 226.2H512.7M508.7 229.4H512.7"/>
<path d="M517.1 226.1H521.1M517.1 229.2H521.1"/>
<path d="M525.5 225.7H529.5M525.5 228.8H529.5"/>
<path d="M533.9 224.7H537.9M533.9 227.8H537.9"/>
<path d="M542.3 222.7H546.3M542.3 225.8H546.3"/>
<path d="M550.7 221.1H554.7M550.7 224.2H554.7"/>
<path d="M559.1 220.7H563.1M559.1 223.8H563.1"/>
<path d="M567.6 220.1H571.6M567.6 223.2H571.6"/>
<path d="M576.0 219.1H580.0M576.0 222.2H580.0"/>
<path d="M584.4 217.1H588.4M584.4 220.2H588.4"/>
<path d="M592.8 215.1H596.8M592.8 218.2H596.8"/>
<path d="M601.2 213.7H605.2M601.2 216.8H605.2"/>
<path d="M609.6 211.1H613.6M609.6 214.2H613.6"/>
<path d="M618.0 207.5H622.0M618.0 210.7H622.0"/>
<path d="M626.4 203.1H630.4M626.4 206.2H630.4"/>
<path d="M634.8 193.4H638.8M634.8 196.6H638.8"/>
<path d="M643.2 188.8H647.2M643.2 192.0H647.2"/>
<path d="M651.6 182.4H655.6M651.6 185.6H655.6"/>
<path d="M660.0 176.9H664.0M660.0 180.1H664.0"/>
<path d="M668.4 167.6H672.4M668.4 170.8H672.4"/>
<path d="M676.8 158.9H680.8M676.8 162.1H680.8"/>
<path d="M685.2 150.4H689.2M685.2 153.6H689.2"/>
<path d="M693.6 146.0H697.6M693.6 149.2H697.6"/>
<path d="M702.1 136.0H706.1M702.1 139.2H706.1"/>
<path d="M710.5 123.8H714.5M710.5 127.0H714.5"/>
<path d="M718.9 114.4H722.9M718.9 117.6H722.9"/>
<path d="M727.3 99.8H731.3M727.3 103.0H731.3"/>
<path d="M735.7 86.2H739.7M735.7 89.4H739.7"/>
<path d="M744.1 71.0H748.1M744.1 74.2H748.1"/>
<path d="M752.5 70.8H756.5M752.5 74.0H756.5"/>
<path d="M760.9 66.8H764.9M760.9 70.0H764.9"/>
<path d="M769.3 62.4H773.3M769.3 65.6H773.3"/>
<path d="M777.7 62.6H781.7M777.7 65.8H781.7"/>
<path d="M786.1 60.8H790.1M786.1 64.0H790.1"/>
</g>
<g fill="#55ff55" stroke="#55ff55" fill-opacity="0.8" stroke-opacity="0.7">
<path d="M90.4 305.3L93.4 311.3H87.4Z"/>
<path d="M98.8 302.3L101.8 308.3H95.8Z"/>
<path d="M107.2 294.9L110.2 300.9H104.2Z"/>
<path d="M115.6 290.3L118.6 296.3H112.6Z"/>
<path d="M124.0 285.3L127.0 291.3H121.0Z"/>
<path d="M132.4 281.9L135.4 287.9H129.4Z"/>
<path d="M140.8 280.3L143.8 286.3H137.8Z"/>
<path d="M149.2 277.7L152.2 283.7H146.2Z"/>
<path d="M157.6 277.7L160.6 283.7H154.6Z"/>
<path d="M166.0 273.3L169.0 279.3H163.0Z"/>
<path d="M174.4 271.3L177.4 277.3H171.4Z"/>
<path d="M182.9 270.5L185.9 276.5H179.9Z"/>
<path d="M191.3 268.9L194.3 274.9H188.3Z"/>
<path d="M199.7 267.1L202.7 273.1H196.7Z"/>
<path d="M208.1 264.9L211.1 270.9H205.1Z"/>
<path d="M216.5 264.1L219.5 270.1H213.5Z"/>
<path d="M224.9 263.1L227.9 269.1H221.9Z"/>
<path d="M233.3 261.8L236.3 267.8H230.3Z"/>
<path d="M241.7 260.3L244.7 266.3H238.7Z"/>
<path d="M250.1 257.3L253.1 263.3H247.1Z"/>
<path d="M258.5 254.9L261.5 260.9H255.5Z"/>
<path d="M266.9 253.3L269.9 259.3H263.9Z"/>
<path d="M275.3 252.9L278.3 258.9H272.3Z"/>
<path d="M283.7 251.7L286.7 257.7H280.7Z"/>
<path d="M292.1 250.7L295.1 256.7H289.1Z"/>
<path d="M300.5 249.3L303.5 255.3H297.5Z"/>
<path d="M308.9 248.7L311.9 254.7H305.9Z"/>
<path d="M317.4 247.9L320.4 253.9H314.4Z"/>
<path d="M325.8 246.7L328.8 252.7H322.8Z"/>
<path d="M334.2 244.9L337.2 250.9H331.2Z"/>
<path d="M342.6 244.1L345.6 250.1H339.6Z"/>
<path d="M351.0 243.3L354.0 249.3H348.0Z"/>
<path d="M359.4 241.3L362.4 247.3H356.4Z"/>
<path d="M367.8 240.3L370.8 246.3H364.8Z"/>
<path d="M376.2 239.3L379.2 245.3H373.2Z"/>
<path d="M384.6 238.8L387.6 244.8H381.6Z"/>
<path d="M393.0 237.9L396.0 243.9H390.0Z"/>
<path d="M401.4 237.3L404.4 243.3H398.4Z"/>
<path d="M409.8 236.9L412.8 242.9H406.8Z"/>
<path d="M418.2 236.3L421.2 242.3H415.2Z"/>
<path d="M426.6 235.3L429.6 241.3H423.6Z"/>
<path d="M435.0 234.9L438.0 240.9H432.0Z"/>
<path d="M443.5 234.5L446.5 240.5H440.5Z"/>
<path d="M451.9 233.9L454.9 239.9H448.9Z"/>
<path d="M460.3 233.3L463.3 239.3H457.3Z"/>
<path d="M468.7 232.5L471.7 238.5H465.7Z"/>
<path d="M477.1 231.9L480.1 237.9H474.1Z"/>
<path d="M485.5 230.7L488.5 236.7H482.5Z"/>
<path d="M493.9 230.1L496.9 236.1H490.9Z"/>
<path d="M502.3 229.5L505.3 235.5H499.3Z"/>
<path d="M510.7 229.3L513.7 235.3H507.7Z"/>
<path d="M519.1 228.9L522.1 234.9H516.1Z"/>
<path d="M527.5 228.3L530.5 234.3H524.5Z"/>
<path d="M535.9 227.3L538.9 233.3H532.9Z"/>
<path d="M544.3 225.9L547.3 231.9H541.3Z"/>
<path d="M552.7 225.3L555.7 231.3H549.7Z"/>
<path d="M561.1 224.9L564.1 230.9H558.1Z"/>
<path d="M569.6 224.3L572.6 230.3H566.6Z"/>
<path d="M578.0 223.3L581.0 229.3H575.0Z"/>
<path d="M586.4 222.3L589.4 228.3H583.4Z"/>
<path d="M594.8 221.3L597.8 227.3H591.8Z"/>
<path d="M603.2 220.3L606.2 226.3H600.2Z"/>
<path d="M611.6 219.3L614.6 225.3H608.6Z"/>
<path d="M620.0 218.3L623.0 224.3H617.0Z"/>
<path d="M628.4 217.3L631.4 223.3H625.4Z"/>
<path d="M636.8 214.9L639.8 220.9H633.8Z"/>
<path d="M645.2 213.8L648.2 219.8H642.2Z"/>
<path d="M653.6 210.8L656.6 216.8H650.6Z"/>
<path d="M662.0 207.3L665.0 213.3H659.0Z"/>
<path d="M670.4 199.7L673.4 205.7H667.4Z"/>
<path d="M678.8 184.8L681.8 190.8H675.8Z"/>
<path d="M687.2 169.3L690.2 175.3H684.2Z"/>
<path d="M695.6 163.3L698.6 169.3H692.6Z"/>
<path d="M704.1 149.9L707.1 155.9H701.1Z"/>
<path d="M712.5 136.7L715.5 142.7H709.5Z"/>
<path d="M720.9 126.3L723.9 132.3H717.9Z"/>
<path d="M729.3 112.9L732.3 118.9H726.3Z"/>
<path d="M737.7 97.3L740.7 103.3H734.7Z"/>
<path d="M746.1 81.9L749.1 87.9H743.1Z"/>
<path d="M754.5 79.3L757.5 85.3H751.5Z"/>
<path d="M762.9 69.8L765.9 75.8H759.9Z"/>
<path d="M771.3 66.7L774.3 72.7H768.3Z"/>
<path d="M779.7 64.1L782.7 70.1H776.7Z"/>
<path d="M788.1 61.3L791.1 67.3H785.1Z"/>
</g>
<g stroke="#55ff55" stroke-opacity="0.6" fill="none">
<path d="M90.4 305.3V311.3"/>
<path d="M98.8 302.3V308.3"/>
<path d="M107.2 294.9V300.9"/>
<path d="M115.6 290.3V296.3"/>
<path d="M124.0 285.3V291.3"/>
<path d="M132.4 281.9V287.9"/>
<path d="M140.8 280.3V286.3"/>
<path d="M149.2 277.7V283.7"/>
<path d="M157.6 277.7V283.7"/>
<path d="M166.0 273.3V279.3"/>
<path d="M174.4 271.3V277.3"/>
<path d="M182.9 270.5V276.5"/>
<path d="M191.3 268.9V274.9"/>
<path d="M199.7 267.1V273.1"/>
<path d="M208.1 264.9V270.9"/>
<path d="M216.5 264.1V270.1"/>
<path d="M224.9 263.1V269.1"/>
<path d="M233.3 261.8V267.8"/>
<path d="M241.7 260.3V266.3"/>
<path d="M250.1 257.3V263.3"/>
<path d="M258.5 254.9V260.9"/>
<path d="M266.9 253.3V259.3"/>
<path d="M275.3 252.9V258.9"/>
<path d="M283.7 251.7V257.7"/>
<path d="M292.1 250.7V256.7"/>
<path d="M300.5 249.3V255.3"/>
<path d="M308.9 248.7V254.7"/>
<path d="M317.4 247.9V253.9"/>
<path d="M325.8 246.7V252.7"/>
<path d="M334.2 244.9V250.9"/>
<path d="M342.6 244.1V250.1"/>
<path d="M351.0 243.3V249.3"/>
<path d="M359.4 241.3V247.3"/>
<path d="M367.8 240.3V246.3"/>
<path d="M376.2 239.3V245.3"/>
<path d="M384.6 238.8V244.8"/>
<path d="M393.0 237.9V243.9"/>
<path d="M401.4 237.3V243.3"/>
<path d="M409.8 236.9V242.9"/>
<path d="M418.2 236.3V242.3"/>
<path d="M426.6 235.3V241.3"/>
<path d="M435.0 234.9V240.9"/>
<path d="M443.5 234.5V240.5"/>
<path d="M451.9 233.9V239.9"/>
<path d="M460.3 233.3V239.3"/>
<path d="M468.7 232.5V238.5"/>
<path d="M477.1 231.9V237.9"/>
<path d="M485.5 230.7V236.7"/>
<path d="M493.9 230.1V236.1"/>
<path d="M502.3 229.5V235.5"/>
<path d="M510.7 229.3V235.3"/>
<path d="M519.1 228.9V234.9"/>
<path d="M527.5 228.3V234.3"/>
<path d="M535.9 227.3V233.3"/>
<path d="M544.3 225.9V231.9"/>
<path d="M552.7 225.3V231.3"/>
<path d="M561.1 224.9V230.9"/>
<path d="M569.6 224.3V230.3"/>
<path d="M578.0 223.3V229.3"/>
<path d="M586.4 222.3V228.3"/>
<path d="M594.8 221.3V227.3"/>
<path d="M603.2 220.3V226.3"/>
<path d="M611.6 219.3V225.3"/>
<path d="M620.0 218.3V224.3"/>
<path d="M628.4 217.3V223.3"/>
<path d="M636.8 214.9V220.9"/>
<path d="M645.2 213.8V219.8"/>
<path d="M653.6 210.8V216.8"/>
<path d="M662.0 207.3V213.3"/>
<path d="M670.4 199.7V205.7"/>
<path d="M678.8 184.8V190.8"/>
<path d="M687.2 169.3V175.3"/>
<path d="M695.6 163.3V169.3"/>
<path d="M704.1 149.9V155.9"/>
<path d="M712.5 136.7V142.7"/>
<path d="M720.9 126.3V132.3"/>
<path d="M729.3 112.9V118.9"/>
<path d="M737.7 97.3V103.3"/>
<path d="M746.1 81.9V87.9"/>
<path d="M754.5 79.3V85.3"/>
<path d="M762.9 69.8V75.8"/>
<path d="M771.3 66.7V72.7"/>
<path d="M779.7 64.1V70.1"/>
<path d="M788.1 61.3V67.3"/>
</g>
<g stroke="#55ff55" stroke-opacity="0.3" fill="none">
<path d="M88.4 306.7H92.4M88.4 309.9H92.4"/>
<path d="M96.8 303.7H100.8M96.8 306.9H100.8"/>
<path d="M105.2 296.3H109.2M105.2 299.5H109.2"/>
<path d="M113.6 291.7H117.6M113.6 294.9H117.6"/>
<path d="M122.0 286.7H126.0M122.0 289.9H126.0"/>
<path d="M130.4 283.3H134.4M130.4 286.5H134.4"/>
<path d="M138.8 281.7H142.8M138.8 284.9H142.8"/>
<path d="M147.2 279.1H151.2M147.2 282.3H151.2"/>
<path d="M155.6 279.1H159.6M155.6 282.3H159.6"/>
<path d="M164.0 274.7H168.0M164.0 277.9H168.0"/>
<path d="M172.4 272.7H176.4M172.4 275.9H176.4"/>
<path d="M180.9 271.9H184.9M180.9 275.1H184.9"/>
<path d="M189.3 270.3H193.3M189.3 273.5H193.3"/>
<path d="M197.7 268.5H201.7M197.7 271.7H201.7"/>
<path d="M206.1 266.3H210.1M206.1 269.5H210.1"/>
<path d="M214.5 265.5H218.5M214.5 268.7H218.5"/>
<path d="M222.9 264.5H226.9M222.9 267.7H226.9"/>
<path d="M231.3 263.2H235.3M231.3 266.4H235.3"/>
<path d="M239.7 261.7H243.7M239.7 264.9H243.7"/>
<path d="M248.1 258.7H252.1M248.1 261.9H252.1"/>
<path d="M256.5 256.3H260.5M256.5 259.5H260.5"/>
<path d="M264.9 254.7H268.9M264.9 257.9H268.9"/>
<path d="M273.3 254.3H277.3M273.3 257.5H277.3"/>
<path d="M281.7 253.1H285.7M281.7 256.3H285.7"/>
<path d="M290.1 252.1H294.1M290.1 255.3H294.1"/>
<path d="M298.5 250.7H302.5M298.5 253.9H302.5"/>
<path d="M306.9 250.1H310.9M306.9 253.3H310.9"/>
<path d="M315.4 249.3H319.4M315.4 252.5H319.4"/>
<path d="M323.8 248.1H327.8M323.8 251.3H327.8"/>
<path d="M332.2 246.3H336.2M332.2 249.5H336.2"/>
<path d="M340.6 245.5H344.6M340.6 248.7H344.6"/>
<path d="M349.0 244.7H353.0M349.0 247.9H353.0"/>
<path d="M357.4 242.7H361.4M357.4 245.9H361.4"/>
<path d="M365.8 241.7H369.8M365.8 244.9H369.8"/>
<path d="M374.2 240.7H378.2M374.2 243.9H378.2"/>
<path d="M382.6 240.2H386.6M382.6 243.4H386.6"/>
<path d="M391.0 239.3H395.0M391.0 242.5H395.0"/>
<path d="M399.4 238.7H403.4M399.4 241.9H403.4"/>
<path d="M407.8 238.3H411.8M407.8 241.5H411.8"/>
<path d="M416.2 237.7H420.2M416.2 240.9H420.2"/>
<path d="M424.6 236.7H428.6M424.6 239.9H428.6"/>
<path d="M433.0 236.3H437.0M433.0 239.5H437.0"/>
<path d="M441.5 235.9H445.5M441.5 239.1H445.5"/>
<path d="M449.9 235.3H453.9M449.9 238.5H453.9"/>
<path d="M458.3 234.7H462.3M458.3 237.9H462.3"/>
<path d="M466.7 233.9H470.7M466.7 237.1H470.7"/>
<path d="M475.1 233.3H479.1M475.1 236.5H479.1"/>
<path d="M483.5 232.1H487.5M483.5 235.3H487.5"/>
<path d="M491.9 231.5H495.9M491.9 234.7H495.9"/>
<path d="M500.3 230.9H504.3M500.3 234.1H504.3"/>
<path d="M508.7 230.7H512.7M508.7 233.9H512.7"/>
<path d="M517.1 230.3H521.1M517.1 233.5H521.1"/>
<path d="M525.5 229.7H529.5M525.5 232.9H529.5"/>
<path d="M533.9 228.7H537.9M533.9 231.9H537.9"/>
<path d="M542.3 227.3H546.3M542.3 230.5H546.3"/>
<path d="M550.7 226.7H554.7M550.7 229.9H554.7"/>
<path d="M559.1 226.3H563.1M559.1 229.5H563.1"/>
<path d="M567.6 225.7H571.6M567.6 228.9H571.6"/>
<path d="M576.0 224.7H580.0M576.0 227.9H580.0"/>
<path d="M584.4 223.7H588.4M584.4 226.9H588.4"/>
<path d="M592.8 222.7H596.8M592.8 225.9H596.8"/>
<path d="M601.2 221.7H605.2M601.2 224.9H605.2"/>
<path d="M609.6 220.7H613.6M609.6 223.9H613.6"/>
<path d="M618.0 219.7H622.0M618.0 222.9H622.0"/>
<path d="M626.4 218.7H630.4M626.4 221.9H630.4"/>
<path d="M634.8 216.3H638.8M634.8 219.5H638.8"/>
<path d="M643.2 215.2H647.2M643.2 218.4H647.2"/>
<path d="M651.6 212.2H655.6M651.6 215.4H655.6"/>
<path d="M660.0 208.7H664.0M660.0 211.9H664.0"/>
<path d="M668.4 201.1H672.4M668.4 204.3H672.4"/>
<path d="M676.8 186.2H680.8M676.8 189.4H680.8"/>
<path d="M685.2 170.7H689.2M685.2 173.9H689.2"/>
<path d="M693.6 164.7H697.6M693.6 167.9H697.6"/>
<path d="M702.1 151.3H706.1M702.1 154.5H706.1"/>
<path d="M710.5 138.1H714.5M710.5 141.3H714.5"/>
<path d="M718.9 127.7H722.9M718.9 130.9H722.9"/>
<path d="M727.3 114.3H731.3M727.3 117.5H731.3"/>
<path d="M735.7 98.7H739.7M735.7 101.9H739.7"/>
<path d="M744.1 83.3H748.1M744.1 86.5H748.1"/>
<path d="M752.5 80.7H756.5M752.5 83.9H756.5"/>
<path d="M760.9 71.2H764.9M760.9 74.4H764.9"/>
<path d="M769.3 68.1H773.3M769.3 71.3H773.3"/>
<path d="M777.7 65.5H781.7M777.7 68.7H781.7"/>
<path d="M786.1 62.7H790.1M786.1 65.9H790.1"/>
</g>
<g fill="#5555ff" stroke="#5555ff" fill-opacity="0.8" stroke-opacity="0.7">
<circle cx="90.4" cy="327.2" r="3"/>
<circle cx="98.8" cy="322.6" r="3"/>
<circle cx="107.2" cy="314.6" r="3"/>
<circle cx="115.6" cy="308.4" r="3"/>
<circle cx="124.0" cy="305.2" r="3"/>
<circle cx="132.4" cy="300.2" r="3"/>
<circle cx="140.8" cy="300.2" r="3"/>
<circle cx="149.2" cy="298.0" r="3"/>
<circle cx="157.6" cy="298.0" r="3"/>
<circle cx="166.0" cy="291.8" r="3"/>
<circle cx="174.4" cy="290.0" r="3"/>
<circle cx="182.9" cy="286.6" r="3"/>
<circle cx="191.3" cy="285.0" r="3"/>
<circle cx="199.7" cy="281.8" r="3"/>
<circle cx="208.1" cy="280.6" r="3"/>
<circle cx="216.5" cy="279.4" r="3"/>
<circle cx="224.9" cy="281.8" r="3"/>
<circle cx="233.3" cy="280.6" r="3"/>
<circle cx="241.7" cy="280.6" r="3"/>
<circle cx="250.1" cy="278.2" r="3"/>
<circle cx="258.5" cy="273.4" r="3"/>
<circle cx="266.9" cy="269.8" r="3"/>
<circle cx="275.3" cy="268.8" r="3"/>
<circle cx="283.7" cy="267.0" r="3"/>
<circle cx="292.1" cy="266.0" r="3"/>
<circle cx="300.5" cy="265.0" r="3"/>
<circle cx="308.9" cy="263.4" r="3"/>
<circle cx="317.4" cy="263.4" r="3"/>
<circle cx="325.8" cy="262.8" r="3"/>
<circle cx="334.2" cy="260.8" r="3"/>
<circle cx="342.6" cy="259.0" r="3"/>
<circle cx="351.0" cy="258.6" r="3"/>
<circle cx="359.4" cy="256.6" r="3"/>
<circle cx="367.8" cy="255.0" r="3"/>
<circle cx="376.2" cy="254.2" r="3"/>
<circle cx="384.6" cy="253.5" r="3"/>
<circle cx="393.0" cy="252.2" r="3"/>
<circle cx="401.4" cy="251.6" r="3"/>
<circle cx="409.8" cy="252.2" r="3"/>
<circle cx="418.2" cy="250.8" r="3"/>
<circle cx="426.6" cy="249.4" r="3"/>
<circle cx="435.0" cy="249.8" r="3"/>
<circle cx="443.5" cy="252.2" r="3"/>
<circle cx="451.9" cy="251.0" r="3"/>
<circle cx="460.3" cy="249.8" r="3"/>
<circle cx="468.7" cy="250.8" r="3"/>
<circle cx="477.1" cy="252.2" r="3"/>
<circle cx="485.5" cy="251.6" r="3"/>
<circle cx="493.9" cy="249.8" r="3"/>
<circle cx="502.3" cy="248.4" r="3"/>
<circle cx="510.7" cy="248.6" r="3"/>
<circle cx="519.1" cy="249.6" r="3"/>
<circle cx="527.5" cy="249.6" r="3"/>
<circle cx="535.9" cy="249.6" r="3"/>
<circle cx="544.3" cy="248.8" r="3"/>
<circle cx="552.7" cy="245.8" r="3"/>
<circle cx="561.1" cy="247.2" r="3"/>
<circle cx="569.6" cy="247.2" r="3"/>
<circle cx="578.0" cy="245.4" r="3"/>
<circle cx="586.4" cy="243.8" r="3"/>
<circle cx="594.8" cy="241.2" r="3"/>
<circle cx="603.2" cy="241.2" r="3"/>
<circle cx="611.6" cy="242.2" r="3"/>
<circle cx="620.0" cy="243.8" r="3"/>
<circle cx="628.4" cy="244.2" r="3"/>
<circle cx="636.8" cy="240.6" r="3"/>
<circle cx="645.2" cy="240.6" r="3"/>
<circle cx="653.6" cy="244.6" r="3"/>
<circle cx="662.0" cy="238.6" r="3"/>
<circle cx="670.4" cy="239.4" r="3"/>
<circle cx="678.8" cy="236.2" r="3"/>
<circle cx="687.2" cy="234.0" r="3"/>
<circle cx="695.6" cy="231.8" r="3"/>
<circle cx="704.1" cy="229.2" r="3"/>
<circle cx="712.5" cy="223.2" r="3"/>
<circle cx="720.9" cy="217.2" r="3"/>
<circle cx="729.3" cy="204.2" r="3"/>
<circle cx="737.7" cy="172.7" r="3"/>
<circle cx="746.1" cy="146.2" r="3"/>
<circle cx="754.5" cy="129.6" r="3"/>
<circle cx="762.9" cy="105.2" r="3"/>
<circle cx="771.3" cy="91.2" r="3"/>
<circle cx="779.7" cy="83.6" r="3"/>
<circle cx="788.1" cy="80.2" r="3"/>
</g>
<g stroke="#5555ff" stroke-opacity="0.6" fill="none">
<path d="M90.4 324.2V330.2"/>
<path d="M98.8 319.6V325.6"/>
<path d="M107.2 311.6V317.6"/>
<path d="M115.6 305.4V311.4"/>
<path d="M124.0 302.2V308.2"/>
<path d="M132.4 297.2V303.2"/>
<path d="M140.8 297.2V303.2"/>
<path d="M149.2 295.0V301.0"/>
<path d="M157.6 295.0V301.0"/>
<path d="M166.0 288.8V294.8"/>
<path d="M174.4 287.0V293.0"/>
<path d="M182.9 283.6V289.6"/>
<path d="M191.3 282.0V288.0"/>
<path d="M199.7 278.8V284.8"/>
<path d="M208.1 277.6V283.6"/>
<path d="M216.5 276.4V282.4"/>
<path d="M224.9 278.8V284.8"/>
<path d="M233.3 277.6V283.6"/>
<path d="M241.7 277.6V283.6"/>
<path d="M250.1 275.2V281.2"/>
<path d="M258.5 270.4V276.4"/>
<path d="M266.9 266.8V272.8"/>
<path d="M275.3 265.8V271.8"/>
<path d="M283.7 264.0V270.0"/>
<path d="M292.1 263.0V269.0"/>
<path d="M300.5 262.0V268.0"/>
<path d="M308.9 260.4V266.4"/>
<path d="M317.4 260.4V266.4"/>
<path d="M325.8 259.8V265.8"/>
<path d="M334.2 257.8V263.8"/>
<path d="M342.6 256.0V262.0"/>
<path d="M351.0 255.6V261.6"/>
<path d="M359.4 253.6V259.6"/>
<path d="M367.8 252.0V258.0"/>
<path d="M376.2 251.2V257.2"/>
<path d="M384.6 250.5V256.5"/>
<path d="M393.0 249.2V255.2"/>
<path d="M401.4 248.6V254.6"/>
<path d="M409.8 249.2V255.2"/>
<path d="M418.2 247.8V253.8"/>
<path d="M426.6 246.4V252.4"/>
<path d="M435.0 246.8V252.8"/>
<path d="M443.5 249.2V255.2"/>
<path d="M451.9 248.0V254.0"/>
<path d="M460.3 246.8V252.8"/>
<path d="M468.7 247.8V253.8"/>
<path d="M477.1 249.2V255.2"/>
<path d="M485.5 248.6V254.6"/>
<path d="M493.9 246.8V252.8"/>
<path d="M502.3 245.4V251.4"/>
<path d="M510.7 245.6V251.6"/>
<path d="M519.1 246.6V252.6"/>
<path d="M527.5 246.6V252.6"/>
<path d="M535.9 246.6V252.6"/>
<path d="M544.3 245.8V251.8"/>
<path d="M552.7 242.8V248.8"/>
<path d="M561.1 244.2V250.2"/>
<path d="M569.6 244.2V250.2"/>
<path d="M578.0 242.4V248.4"/>
<path d="M586.4 240.8V246.8"/>
<path d="M594.8 238.2V244.2"/>
<path d="M603.2 238.2V244.2"/>
<path d="M611.6 239.2V245.2"/>
<path d="M620.0 240.8V246.8"/>
<path d="M628.4 241.2V247.2"/>
<path d="M636.8 237.6V243.6"/>
<path d="M645.2 237.6V243.6"/>
<path d="M653.6 241.6V247.6"/>
<path d="M662.0 235.6V241.6"/>
<path d="M670.4 236.4V242.4"/>
<path d="M678.8 233.2V239.2"/>
<path d="M687.2 231.0V237.0"/>
<path d="M695.6 228.8V234.8"/>
<path d="M704.1 226.2V232.2"/>
<path d="M712.5 220.2V226.2"/>
<path d="M720.9 214.2V220.2"/>
<path d="M729.3 201.2V207.2"/>
<path d="M737.7 169.7V175.7"/>
<path d="M746.1 143.2V149.2"/>
<path d="M754.5 126.6V132.6"/>
<path d="M762.9 102.2V108.2"/>
<path d="M771.3 88.2V94.2"/>
<path d="M779.7 80.6V86.6"/>
<path d="M788.1 77.2V83.2"/>
</g>
<g stroke="#5555ff" stroke-opacity="0.3" fill="none">
<path d="M88.4 325.6H92.4M88.4 328.8H92.4"/>
<path d="M96.8 321.0H100.8M96.8 324.2H100.8"/>
<path d="M105.2 313.0H109.2M105.2 316.2H109.2"/>
<path d="M113.6 306.8H117.6M113.6 310.0H117.6"/>
<path d="M122.0 303.6H126.0M122.0 306.8H126.0"/>
<path d="M130.4 298.6H134.4M130.4 301.8H134.4"/>
<path d="M138.8 298.6H142.8M138.8 301.8H142.8"/>
<path d="M147.2 296.4H151.2M147.2 299.6H151.2"/>
<path d="M155.6 296.4H159.6M155.6 299.6H159.6"/>
<path d="M164.0 290.2H168.0M164.0 293.4H168.0"/>
<path d="M172.4 288.4H176.4M172.4 291.6H176.4"/>
<path d="M180.9 285.0H184.9M180.9 288.2H184.9"/>
<path d="M189.3 283.4H193.3M189.3 286.6H193.3"/>
<path d="M197.7 280.2H201.7M197.7 283.4H201.7"/>
<path d="M206.1 279.0H210.1M206.1 282.2H210.1"/>
<path d="M214.5 277.8H218.5M214.5 281.0H218.5"/>
<path d="M222.9 280.2H226.9M222.9 283.4H226.9"/>
<path d="M231.3 279.0H235.3M231.3 282.2H235.3"/>
<path d="M239.7 279.0H243.7M239.7 282.2H243.7"/>
<path d="M248.1 276.6H252.1M248.1 279.8H252.1"/>
<path d="M256.5 271.8H260.5M256.5 275.0H260.5"/>
<path d="M264.9 268.2H268.9M264.9 271.4H268.9"/>
<path d="M273.3 267.2H277.3M273.3 270.4H277.3"/>
<path d="M281.7 265.4H285.7M281.7 268.6H285.7"/>
<path d="M290.1 264.4H294.1M290.1 267.6H294.1"/>
<path d="M298.5 263.4H302.5M298.5 266.6H302.5"/>
<path d="M306.9 261.8H310.9M306.9 265.0H310.9"/>
<path d="M315.4 261.8H319.4M315.4 265.0H319.4"/>
<path d="M323.8 261.2H327.8M323.8 264.4H327.8"/>
<path d="M332.2 259.2H336.2M332.2 262.4H336.2"/>
<path d="M340.6 257.4H344.6M340.6 260.6H344.6"/>
<path d="M349.0 257.0H353.0M349.0 260.2H353.0"/>
<path d="M357.4 255.0H361.4M357.4 258.2H361.4"/>
<path d="M365.8 253.4H369.8M365.8 256.6H369.8"/>
<path d="M374.2 252.6H378.2M374.2 255.8H378.2"/>
<path d="M382.6 251.9H386.6M382.6 255.1H386.6"/>
<path d="M391.0 250.6H395.0M391.0 253.8H395.0"/>
<path d="M399.4 250.0H403.4M399.4 253.2H403.4"/>
<path d="M407.8 250.6H411.8M407.8 253.8H411.8"/>
<path d="M416.2 249.2H420.2M416.2 252.4H420.2"/>
<path d="M424.6 247.8H428.6M424.6 251.0H428.6"/>
<path d="M433.0 248.2H437.0M433.0 251.4H437.0"/>
<path d="M441.5 250.6H445.5M441.5 253.8H445.5"/>
<path d="M449.9 249.4H453.9M449.9 252.6H453.9"/>
<path d="M458.3 248.2H462.3M458.3 251.4H462.3"/>
<path d="M466.7 249.2H470.7M466.7 252.4H470.7"/>
<path d="M475.1 250.6H479.1M475.1 253.8H479.1"/>
<path d="M483.5 250.0H487.5M483.5 253.2H487.5"/>
<path d="M491.9 248.2H495.9M491.9 251.4H495.9"/>
<path d="M500.3 246.8H504.3M500.3 250.0H504.3"/>
<path d="M508.7 247.0H512.7M508.7 250.2H512.7"/>
<path d="M517.1 248.0H521.1M517.1 251.2H521.1"/>
<path d="M525.5 248.0H529.5M525.5 251.2H529.5"/>
<path d="M533.9 248.0H537.9M533.9 251.2H537.9"/>
<path d="M542.3 247.2H546.3M542.3 250.4H546.3"/>
<path d="M550.7 244.2H554.7M550.7 247.4H554.7"/>
<path d="M559.1 245.6H563.1M559.1 248.8H563.1"/>
<path d="M567.6 245.6H571.6M567.6 248.8H571.6"/>
<path d="M576.0 243.8H580.0M576.0 247.0H580.0"/>
<path d="M584.4 242.2H588.4M584.4 245.4H588.4"/>
<path d="M592.8 239.6H596.8M592.8 242.8H596.8"/>
<path d="M601.2 239.6H605.2M601.2 242.8H605.2"/>
<path d="M609.6 240.6H613.6M609.6 243.8H613.6"/>
<path d="M618.0 242.2H622.0M618.0 245.4H622.0"/>
<path d="M626.4 242.6H630.4M626.4 245.8H630.4"/>
<path d="M634.8 239.0H638.8M634.8 242.2H638.8"/>
<path d="M643.2 239.0H647.2M643.2 242.2H647.2"/>
<path d="M651.6 243.0H655.6M651.6 246.2H655.6"/>
<path d="M660.0 237.0H664.0M660.0 240.2H664.0"/>
<path d="M668.4 237.8H672.4M668.4 241.0H672.4"/>
<path d="M676.8 234.6H680.8M676.8 237.8H680.8"/>
<path d="M685.2 232.4H689.2M685.2 235.6H689.2"/>
<path d="M693.6 230.2H697.6M693.6 233.4H697.6"/>
<path d="M702.1 227.6H706.1M702.1 230.8H706.1"/>
<path d="M710.5 221.6H714.5M710.5 224.8H714.5"/>
<path d="M718.9 215.6H722.9M718.9 218.8H722.9"/>
<path d="M727.3 202.6H731.3M727.3 205.8H731.3"/>
<path d="M735.7 171.1H739.7M735.7 174.3H739.7"/>
<path d="M744.1 144.6H748.1M744.1 147.8H748.1"/>
<path d="M752.5 128.0H756.5M752.5 131.2H756.5"/>
<path d="M760.9 103.6H764.9M760.9 106.8H764.9"/>
<path d="M769.3 89.6H773.3M769.3 92.8H773.3"/>
<path d="M777.7 82.0H781.7M777.7 85.2H781.7"/>
<path d="M786.1 78.6H790.1M786.1 81.8H790.1"/>
</g>
<g stroke="#ff5555" stroke-opacity="0.62" fill="none">
<path d="M87.4 314.5H93.4M90.4 314.5V327.5"/>
<path d="M95.8 314.5H101.8M98.8 314.5V327.5"/>
<path d="M104.2 314.5H110.2M107.2 314.5V327.5"/>
<path d="M112.6 314.5H118.6M115.6 314.5V327.5"/>
<path d="M121.0 314.5H127.0M124.0 314.5V327.5"/>
<path d="M129.4 314.5H135.4M132.4 314.5V327.5"/>
<path d="M137.8 314.5H143.8M140.8 314.5V327.5"/>
<path d="M146.2 314.5H152.2M149.2 314.5V327.5"/>
<path d="M154.6 314.5H160.6M157.6 314.5V327.5"/>
<path d="M163.0 314.5H169.0M166.0 314.5V327.5"/>
<path d="M171.4 314.5H177.4M174.4 314.5V327.5"/>
<path d="M179.9 314.5H185.9M182.9 314.5V327.5"/>
<path d="M188.3 314.5H194.3M191.3 314.5V327.5"/>
<path d="M196.7 314.5H202.7M199.7 314.5V327.5"/>
<path d="M205.1 314.5H211.1M208.1 314.5V327.5"/>
<path d="M213.5 314.5H219.5M216.5 314.5V327.5"/>
<path d="M221.9 314.5H227.9M224.9 314.5V327.5"/>
<path d="M230.3 314.5H236.3M233.3 314.5V327.5"/>
<path d="M238.7 314.5H244.7M241.7 314.5V327.5"/>
<path d="M247.1 314.5H253.1M250.1 314.5V327.5"/>
<path d="M255.5 314.5H261.5M258.5 314.5V327.5"/>
<path d="M263.9 314.5H269.9M266.9 314.5V327.5"/>
<path d="M272.3 314.5H278.3M275.3 314.5V327.5"/>
<path d="M280.7 314.5H286.7M283.7 314.5V327.5"/>
<path d="M289.1 314.5H295.1M292.1 314.5V327.5"/>
<path d="M297.5 314.5H303.5M300.5 314.5V327.5"/>
<path d="M305.9 314.5H311.9M308.9 314.5V327.5"/>
<path d="M314.4 314.5H320.4M317.4 314.5V327.5"/>
<path d="M322.8 314.5H328.8M325.8 314.5V327.5"/>
<path d="M331.2 314.5H337.2M334.2 314.5V327.5"/>
<path d="M339.6 314.5H345.6M342.6 314.5V327.5"/>
<path d="M348.0 314.5H354.0M351.0 314.5V327.5"/>
<path d="M356.4 314.5H362.4M359.4 314.5V327.5"/>
<path d="M364.8 314.5H370.8M367.8 314.5V327.5"/>
<path d="M373.2 314.5H379.2M376.2 314.5V327.5"/>
<path d="M381.6 314.5H387.6M384.6 314.5V327.5"/>
<path d="M390.0 314.5H396.0M393.0 314.5V327.5"/>
<path d="M398.4 314.5H404.4M401.4 314.5V327.5"/>
<path d="M406.8 314.5H412.8M409.8 314.5V327.5"/>
<path d="M415.2 314.5H421.2M418.2 314.5V327.5"/>
<path d="M423.6 314.5H429.6M426.6 314.5V327.5"/>
<path d="M432.0 314.5H438.0M435.0 314.5V327.5"/>
<path d="M440.5 314.5H446.5M443.5 314.5V327.5"/>
<path d="M448.9 314.5H454.9M451.9 314.5V327.5"/>
<path d="M457.3 314.5H463.3M460.3 314.5V327.5"/>
<path d="M465.7 314.5H471.7M468.7 314.5V327.5"/>
<path d="M474.1 314.5H480.1M477.1 314.5V327.5"/>
<path d="M482.5 314.5H488.5M485.5 314.5V327.5"/>
<path d="M490.9 314.5H496.9M493.9 314.5V327.5"/>
<path d="M499.3 314.5H505.3M502.3 314.5V327.5"/>
<path d="M507.7 314.5H513.7M510.7 314.5V327.5"/>
<path d="M516.1 314.5H522.1M519.1 314.5V327.5"/>
<path d="M524.5 314.5H530.5M527.5 314.5V327.5"/>
<path d="M532.9 314.5H538.9M535.9 314.5V327.5"/>
<path d="M541.3 314.5H547.3M544.3 314.5V327.5"/>
<path d="M549.7 314.5H555.7M552.7 314.5V327.5"/>
<path d="M558.1 314.5H564.1M561.1 314.5V327.5"/>
<path d="M566.6 314.5H572.6M569.6 314.5V327.5"/>
<path d="M575.0 314.5H581.0M578.0 314.5V327.5"/>
<path d="M583.4 314.5H589.4M586.4 314.5V327.5"/>
<path d="M591.8 314.5H597.8M594.8 314.5V327.5"/>
<path d="M600.2 314.5H606.2M603.2 314.5V327.5"/>
<path d="M608.6 314.5H614.6M611.6 314.5V327.5"/>
<path d="M617.0 314.5H623.0M620.0 314.5V327.5"/>
<path d="M625.4 314.5H631.4M628.4 314.5V327.5"/>
<path d="M633.8 314.5H639.8M636.8 314.5V327.5"/>
<path d="M642.2 314.5H648.2M645.2 314.5V327.5"/>
<path d="M650.6 314.5H656.6M653.6 314.5V327.5"/>
<path d="M659.0 314.5H665.0M662.0 314.5V327.5"/>
<path d="M667.4 314.5H673.4M670.4 314.5V327.5"/>
<path d="M675.8 314.5H681.8M678.8 314.5V327.5"/>
<path d="M684.2 314.5H690.2M687.2 314.5V327.5"/>
<path d="M692.6 314.5H698.6M695.6 314.5V327.5"/>
<path d="M701.1 314.5H707.1M704.1 314.5V327.5"/>
<path d="M709.5 314.5H715.5M712.5 314.5V327.5"/>
<path d="M717.9 314.5H723.9M720.9 314.5V327.5"/>
<path d="M726.3 314.5H732.3M729.3 314.5V327.5"/>
<path d="M734.7 314.5H740.7M737.7 314.5V327.5"/>
<path d="M743.1 314.5H749.1M746.1 314.5V327.5"/>
<path d="M751.5 314.5H757.5M754.5 314.5V327.5"/>
<path d="M759.9 314.5H765.9M762.9 314.5V327.5"/>
<path d="M768.3 314.5H774.3M771.3 314.5V327.5"/>
<path d="M776.7 314.5H782.7M779.7 314.5V327.5"/>
<path d="M785.1 314.5H791.1M788.1 314.5V327.5"/>
</g>
</g>
<g clip-path="url(#plot)">
<text x="512.8" y="20.6" font-size="9" text-anchor="middle" fill="#000" stroke="#000" stroke-width="0.1" letter-spacing="0.54">critical-jOPS</text>
<text x="748.2" y="20.9" font-size="9" text-anchor="start" fill="#000" stroke="#000" stroke-width="0.1" letter-spacing="0.05">max-jOP<tspan dx="1.6">S</tspan></text>
<line x1="512.5" y1="10.5" x2="512.5" y2="327.5" stroke="#ffc800" stroke-width="2.2"/>
<line x1="771.2" y1="10.5" x2="771.2" y2="327.5" stroke="#ff0000" stroke-width="2.2"/>
</g>
<rect x="82.5" y="10.5" width="706.0" height="317.0" fill="none" stroke="#6e6e6e" stroke-width="1"/>
<line x1="78.5" y1="10.5" x2="78.5" y2="327.5" stroke="#bdbdbd" stroke-width="1"/>
<g stroke="#a4a4a4" stroke-width="1" fill="none">
<line x1="76.0" y1="314.5" x2="78.5" y2="314.5"/>
<line x1="76.0" y1="289.5" x2="78.5" y2="289.5"/>
<line x1="76.0" y1="275.5" x2="78.5" y2="275.5"/>
<line x1="76.0" y1="265.5" x2="78.5" y2="265.5"/>
<line x1="76.0" y1="257.5" x2="78.5" y2="257.5"/>
<line x1="76.0" y1="250.5" x2="78.5" y2="250.5"/>
<line x1="76.0" y1="244.5" x2="78.5" y2="244.5"/>
<line x1="76.0" y1="240.5" x2="78.5" y2="240.5"/>
<line x1="76.0" y1="236.5" x2="78.5" y2="236.5"/>
<line x1="76.0" y1="232.5" x2="78.5" y2="232.5"/>
<line x1="76.0" y1="207.5" x2="78.5" y2="207.5"/>
<line x1="76.0" y1="192.5" x2="78.5" y2="192.5"/>
<line x1="76.0" y1="182.5" x2="78.5" y2="182.5"/>
<line x1="76.0" y1="174.5" x2="78.5" y2="174.5"/>
<line x1="76.0" y1="168.5" x2="78.5" y2="168.5"/>
<line x1="76.0" y1="162.5" x2="78.5" y2="162.5"/>
<line x1="76.0" y1="157.5" x2="78.5" y2="157.5"/>
<line x1="76.0" y1="153.5" x2="78.5" y2="153.5"/>
<line x1="76.0" y1="149.5" x2="78.5" y2="149.5"/>
<line x1="76.0" y1="125.5" x2="78.5" y2="125.5"/>
<line x1="76.0" y1="110.5" x2="78.5" y2="110.5"/>
<line x1="76.0" y1="100.5" x2="78.5" y2="100.5"/>
<line x1="76.0" y1="92.5" x2="78.5" y2="92.5"/>
<line x1="76.0" y1="85.5" x2="78.5" y2="85.5"/>
<line x1="76.0" y1="80.5" x2="78.5" y2="80.5"/>
<line x1="76.0" y1="75.5" x2="78.5" y2="75.5"/>
<line x1="76.0" y1="71.5" x2="78.5" y2="71.5"/>
<line x1="76.0" y1="67.5" x2="78.5" y2="67.5"/>
<line x1="76.0" y1="42.5" x2="78.5" y2="42.5"/>
<line x1="76.0" y1="28.5" x2="78.5" y2="28.5"/>
<line x1="76.0" y1="18.5" x2="78.5" y2="18.5"/>
<line x1="76.0" y1="10.5" x2="78.5" y2="10.5"/>
<line x1="82.5" y1="331.5" x2="788.5" y2="331.5" stroke="#b6b6b6"/>
</g>
<g stroke="#707070" stroke-width="1" fill="none">
<line x1="82.5" y1="331.5" x2="82.5" y2="334.0"/>
<line x1="184.5" y1="331.5" x2="184.5" y2="334.0"/>
<line x1="287.5" y1="331.5" x2="287.5" y2="334.0"/>
<line x1="390.5" y1="331.5" x2="390.5" y2="334.0"/>
<line x1="493.5" y1="331.5" x2="493.5" y2="334.0"/>
<line x1="596.5" y1="331.5" x2="596.5" y2="334.0"/>
<line x1="698.5" y1="331.5" x2="698.5" y2="334.0"/>
</g>
<g font-size="9.2" fill="#000" text-anchor="end" letter-spacing="0.28">
<text x="73.1" y="317.9">1000</text>
<text x="73.1" y="235.6">10000</text>
<text x="73.1" y="153.3">100000</text>
<text x="73.1" y="71.0">1000000</text>
</g>
<g font-size="12" fill="#404040" text-anchor="middle" letter-spacing="0.36">
<text x="82.9" y="346.3">0</text>
<text x="185.0" y="346.3">200,000</text>
<text x="287.8" y="346.3">400,000</text>
<text x="390.5" y="346.3">600,000</text>
<text x="493.3" y="346.3">800,000</text>
<text x="596.1" y="346.3">1,000,000</text>
<text x="698.9" y="346.3">1,200,000</text>
</g>
<text x="434.9" y="364.8" font-size="14" font-weight="bold" fill="#404040" text-anchor="middle" letter-spacing="-0.3">jOPS</text>
<text transform="translate(22.3 169.0) rotate(-90)" font-size="12" fill="#000" text-anchor="middle" letter-spacing="0.36">Response time, usec</text>
<rect x="131.5" y="377.5" width="538" height="21" fill="#fff" stroke="#000" stroke-width="1"/>
<rect x="138.2" y="384.8" width="6.8" height="6.8" fill="#ff5555"/>
<circle cx="187.6" cy="388.2" r="3.5" fill="#5555ff"/>
<path d="M257.6 384.2L261.4 392.0H253.8Z" fill="#55ff55"/>
<path d="M381.5 384.2L385.4 388.2L381.5 392.2L377.6 388.2Z" fill="#ffff55"/>
<rect x="502" y="386.09999999999997" width="7" height="4" fill="#ff55ff"/>
<path d="M625.4 384.4H633.1L629.25 392.0Z" fill="#55ffff"/>
<g font-size="12" fill="#404040">
<text x="153.2" y="392.2" letter-spacing="0">min</text>
<text x="199.0" y="392.2" letter-spacing="0.18">median</text>
<text x="269.2" y="392.2" letter-spacing="0.27">90-th percentile</text>
<text x="393.2" y="392.2" letter-spacing="0.27">95-th percentile</text>
<text x="517.2" y="392.2" letter-spacing="0.27">99-th percentile</text>
<text x="641.0" y="392.2" letter-spacing="-0.1">max</text>
</g>
</svg>
</body></html>
